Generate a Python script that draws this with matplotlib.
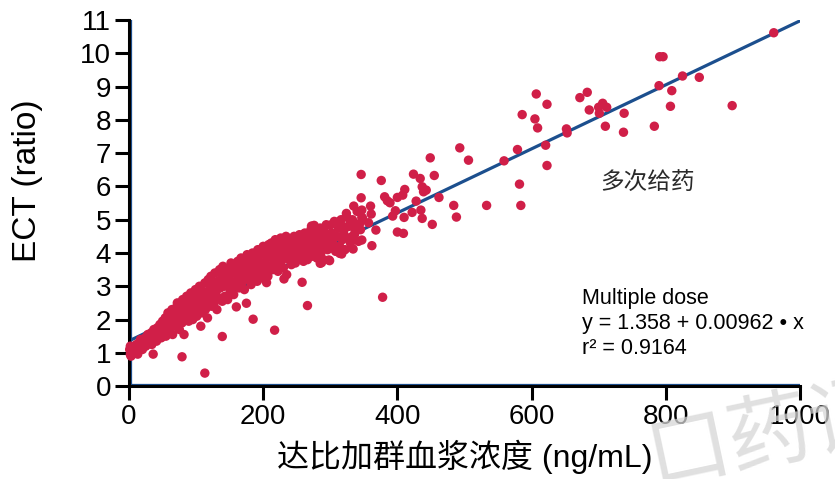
import matplotlib
matplotlib.use("Agg")
import matplotlib.pyplot as plt
import matplotlib.transforms as mtransforms
import numpy as np

plt.rcParams["font.family"] = ["Liberation Sans", "Noto Sans CJK SC", "DejaVu Sans"]

# dense band (ng/mL, ratio)
band_conc = [
    2, 3, 1, 4, 5, 2, 6, 7, 8, 3, 9, 10, 11, 12, 14, 15, 16, 18, 19, 20, 13, 17,
    22, 24, 25, 27, 28, 30, 31, 33, 34, 36, 37, 38, 40, 41, 42, 44, 45, 46, 48, 49, 50,
    52, 53, 54, 55, 57, 58, 59, 60, 61, 63, 64, 65, 66, 68, 69, 70, 71, 72, 74, 75, 76, 78, 79, 80,
    81, 84, 85, 86, 88, 89, 90, 91, 92, 94, 95, 96, 98, 99, 100, 101, 103, 104, 105, 108, 109, 110,
    112, 113, 114, 116, 117, 118, 119, 120,
    122, 123, 124, 126, 127, 128, 130, 131, 132, 134, 135, 136, 138, 139, 140, 142, 143, 144, 146,
    147, 148, 150, 151, 152, 154, 155, 156, 158, 159,
    162, 163, 164, 166, 167, 168, 170, 171, 172, 174, 175, 176, 178, 179, 180, 182, 183, 184, 186,
    187, 188, 190, 191, 192, 194, 195, 196, 198, 199, 200,
    202, 203, 204, 206, 207, 208, 210, 211, 212, 214, 215, 216, 218, 219, 220, 222, 223, 224, 226,
    227, 228, 230, 231, 232, 234, 235, 236, 238, 239, 240, 242, 243, 244, 246, 247, 248, 250,
    252, 253, 254, 256, 257, 258, 260, 261, 262, 264, 265, 266, 268, 270, 271, 272, 274, 276, 278,
    279, 280, 282, 284, 285, 286, 288, 290, 291, 292, 294, 296, 298, 300,
    302, 304, 306, 308, 310, 312, 314, 316, 318, 320, 322, 324, 326, 328, 330, 333, 336, 338, 340,
    342, 345, 348,
]
band_ect = [
    0.95, 1.05, 1.1, 1.0, 1.15, 1.2, 0.98, 1.08, 1.2, 0.9, 1.02, 1.15, 1.25, 1.05, 1.18, 1.3, 1.12,
    1.22, 1.35, 1.1, 0.96, 1.4,
    1.28, 1.45, 1.2, 1.38, 1.55, 1.3, 1.48, 1.6, 1.25, 1.5, 1.7, 1.4, 1.58, 1.35, 1.75, 1.5, 1.65,
    1.85, 1.45, 1.72, 1.95,
    1.6, 1.82, 2.05, 1.5, 1.75, 2.2, 1.95, 1.65, 2.1, 1.85, 2.3, 1.55, 2.0, 2.15, 1.8, 2.35, 1.95,
    2.5, 2.1, 1.7, 2.25, 2.4, 1.9, 2.6,
    2.2, 2.45, 2.05, 2.7, 2.3, 1.95, 2.55, 2.15, 2.8, 2.4, 2.0, 2.65, 2.25, 2.9, 2.5, 2.1, 2.75,
    2.35, 3.0, 2.6, 2.2, 2.85, 2.45, 3.1, 2.3, 2.7, 2.05, 3.2, 2.55, 2.9,
    3.3, 2.4, 2.75, 3.05, 2.5, 3.4, 2.85, 2.3, 3.15, 2.65, 3.5, 2.95, 3.25, 2.55, 3.6, 3.0, 2.7,
    3.35, 3.1, 2.6, 3.5, 3.2, 2.85, 3.7, 3.0, 3.4, 2.75, 3.55, 3.15,
    3.75, 3.3, 2.95, 3.5, 3.85, 3.1, 3.6, 3.25, 2.9, 3.7, 3.4, 3.95, 3.2, 3.55, 3.8, 3.05, 3.45,
    4.0, 3.65, 3.3, 3.9, 3.5, 3.15, 4.1, 3.75, 3.4, 3.95, 3.6, 3.25, 4.2,
    3.7, 3.45, 4.05, 3.85, 3.3, 4.25, 3.6, 3.95, 4.3, 3.5, 4.1, 3.8, 4.4, 3.65, 4.0, 3.45, 4.2,
    3.9, 4.45, 3.75, 4.1, 3.55, 4.3, 3.95, 4.5, 3.35, 4.15, 3.8, 4.4, 4.05, 3.65, 4.25, 3.9, 4.5,
    4.0, 3.7, 4.3,
    4.1, 3.85, 4.55, 4.2, 3.95, 4.4, 3.75, 4.15, 4.6, 4.0, 4.3, 3.8, 4.45, 4.1, 4.7, 3.9, 4.25,
    4.55, 4.05, 4.35, 3.85, 4.5, 4.2, 4.75, 4.0, 4.4, 3.8, 4.6, 4.25, 4.85, 4.1, 4.45, 4.15,
    4.6, 4.3, 4.95, 4.05, 4.5, 4.75, 4.2, 5.0, 4.4, 4.65, 4.1, 5.1, 4.45, 4.8, 4.3, 5.0, 4.55,
    4.85, 5.25, 4.35, 4.7, 5.05,
]

# scattered points outside the band
spread_conc = [
    36, 79, 113, 107, 139, 185, 217, 266, 378, 175, 160, 205, 231, 258, 82,
    272, 300, 276, 275, 294, 304, 320, 313, 324, 313, 329, 320, 347, 357, 344, 347, 332, 337,
    346, 376, 424, 434, 437, 443, 439, 411, 408, 400, 381, 385, 389, 428, 462, 346, 335, 360,
    347, 361, 397, 393, 422, 435, 437, 410, 452, 400, 409, 368, 362, 334, 317, 299, 287, 285,
    298, 314, 449, 455, 493, 506, 484, 488,
    533, 584, 582, 559, 623, 579, 621, 652, 653, 710, 737, 783, 609, 605, 586, 623, 607, 672,
    683, 686, 700, 706, 712, 701, 738, 790, 809, 807, 899, 825, 850, 791, 796, 961,
]
spread_ect = [
    0.96, 0.88, 0.39, 1.80, 1.49, 2.01, 1.68, 2.42, 2.67, 2.49, 2.38, 3.11, 3.22, 3.12, 1.55,
    4.81, 4.84, 4.83, 4.63, 4.59, 4.49, 4.54, 4.89, 5.19, 4.94, 4.99, 4.79, 5.07, 4.91, 4.89,
    4.39, 4.49, 4.64, 6.36, 6.18, 6.37, 6.24, 5.99, 5.89, 5.84, 5.91, 5.74, 5.67, 5.69, 5.57,
    5.51, 5.56, 5.67, 5.66, 5.41, 5.41, 5.29, 5.17, 5.27, 5.11, 5.22, 5.29, 5.04, 5.07, 4.86,
    4.63, 4.59, 4.69, 4.22, 4.12, 3.97, 3.77, 3.71, 3.69, 3.79, 3.99, 6.86, 6.33, 7.16, 6.79,
    5.43, 5.08,
    5.43, 5.43, 6.07, 6.77, 6.63, 7.11, 7.24, 7.73, 7.61, 7.81, 7.63, 7.81, 7.76, 8.03, 8.16,
    8.47, 8.78, 8.67, 8.83, 8.3, 8.38, 8.5, 8.38, 8.2, 8.2, 9.03, 8.88, 8.41, 8.43, 9.32, 9.28,
    9.9, 9.9, 10.62,
]

intercept = 1.358
slope = 0.00962
fit_range = [0, 1000]

x_ticks = [0, 200, 400, 600, 800, 1000]
y_ticks = list(range(0, 12))

dot_color = "#d01f48"
line_color = "#1c4f8e"

fig = plt.figure(figsize=(8.35, 4.79), dpi=100)
ax = fig.add_axes([0.1545, 0.194, 0.8035, 0.764])

fit_x = np.array(fit_range)
ax.plot(fit_x, intercept + slope * fit_x, color=line_color, lw=2.3, zorder=2,
        solid_capstyle="round")
ax.scatter(band_conc + spread_conc, band_ect + spread_ect, s=46, color=dot_color,
           edgecolors="none", zorder=3, clip_on=False)

# thin blue edge just inside the black axis lines
inner_x = mtransforms.offset_copy(ax.transData, fig=fig, x=2.2, y=0, units="dots")
inner_y = mtransforms.offset_copy(ax.transData, fig=fig, x=0, y=2.2, units="dots")
ax.plot([0, 0], [0, 11], color=line_color, lw=0.9, transform=inner_x, zorder=1.5)
ax.plot([0, 1000], [0, 0], color=line_color, lw=0.9, transform=inner_y, zorder=1.5)

ax.set_xlim(0, 1000)
ax.set_ylim(0, 11)
ax.set_xticks(x_ticks)
ax.set_yticks(y_ticks)
ax.tick_params(axis="both", direction="out", length=10, width=2.2, labelsize=20,
               color="black", pad=3)
for side in ["top", "right"]:
    ax.spines[side].set_visible(False)
for side in ["left", "bottom"]:
    ax.spines[side].set_linewidth(2.2)

ax.set_xlabel("达比加群血浆浓度 (ng/mL)", fontsize=23, labelpad=7)
ax.set_ylabel("ECT (ratio)", fontsize=24)
ax.yaxis.set_label_coords(-0.128, 0.56)

ax.text(773, 6.1, "多次给药", fontsize=17, ha="center", va="center",
        family=["Noto Sans CJK SC", "DejaVu Sans"], color="#2a2a2a")
ax.text(675, 2.64, "Multiple dose", fontsize=15.5, ha="left", va="center")
ax.text(675, 1.89, "y = 1.358 + 0.00962 \u2022 x", fontsize=15.5, ha="left", va="center")
ax.text(675, 1.14, "r\u00b2 = 0.9164", fontsize=15.5, ha="left", va="center")

# watermark fragment in the lower right corner
fig.text(0.765, -0.05, "口药评", fontsize=60, color="#d6d6d6", alpha=0.75,
         family=["Noto Sans CJK SC"], rotation=12, ha="left", va="bottom", zorder=0)

fig.savefig("out.png", dpi=100)
